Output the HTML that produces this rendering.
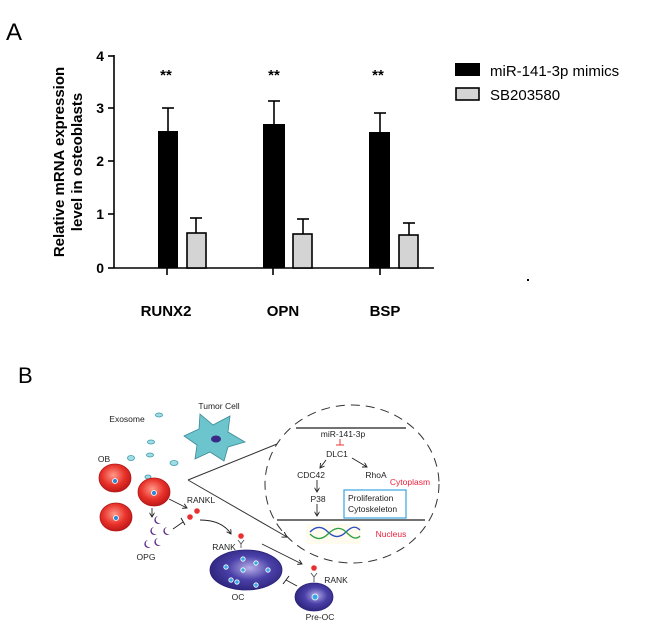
<!DOCTYPE html>
<html><head><meta charset="utf-8"><style>
html,body{margin:0;padding:0;background:#fff;}
svg{display:block;font-family:"Liberation Sans",sans-serif;}
</style></head><body>
<svg width="650" height="630" viewBox="0 0 650 630" xmlns="http://www.w3.org/2000/svg">
<defs>
<marker id="ar" markerWidth="6" markerHeight="6" refX="5" refY="3" orient="auto"><path d="M0,0 L5,3 L0,6" fill="none" stroke="#222" stroke-width="1"/></marker>
<radialGradient id="rc" cx="45%" cy="40%" r="60%"><stop offset="0" stop-color="#ff9a8a"/><stop offset="0.6" stop-color="#e8322a"/><stop offset="1" stop-color="#c01818"/></radialGradient>
<radialGradient id="bc" cx="55%" cy="45%" r="60%"><stop offset="0" stop-color="#b8b0e8"/><stop offset="0.5" stop-color="#4a40a8"/><stop offset="1" stop-color="#2a2278"/></radialGradient>
</defs>
<!-- Panel A -->
<text x="6" y="40" font-size="24">A</text>
<text transform="translate(64,162) rotate(-90)" font-size="15" font-weight="bold" text-anchor="middle">Relative mRNA expression</text>
<text transform="translate(82,162) rotate(-90)" font-size="15" font-weight="bold" text-anchor="middle">level in osteoblasts</text>
<g stroke="#000" stroke-width="1.6">
<line x1="114" y1="55" x2="114" y2="268"/>
<line x1="114" y1="268" x2="434" y2="268"/>
<line x1="108" y1="56" x2="114" y2="56"/><line x1="108" y1="108" x2="114" y2="108"/><line x1="108" y1="161" x2="114" y2="161"/><line x1="108" y1="214" x2="114" y2="214"/><line x1="108" y1="268" x2="114" y2="268"/>
<line x1="167" y1="268" x2="167" y2="275"/><line x1="273" y1="268" x2="273" y2="275"/><line x1="380" y1="268" x2="380" y2="275"/>
</g>
<g font-size="14" font-weight="bold" text-anchor="end">
<text x="104" y="61">4</text><text x="104" y="113">3</text><text x="104" y="166">2</text><text x="104" y="219">1</text><text x="104" y="273">0</text>
</g>
<g stroke="#000" stroke-width="1.6">
<line x1="168" y1="131" x2="168" y2="108"/><line x1="162" y1="108" x2="174" y2="108"/>
<line x1="196" y1="233" x2="196" y2="218"/><line x1="190" y1="218" x2="202" y2="218"/>
<line x1="274" y1="124" x2="274" y2="101"/><line x1="268" y1="101" x2="280" y2="101"/>
<line x1="303" y1="234" x2="303" y2="219"/><line x1="297" y1="219" x2="309" y2="219"/>
<line x1="380" y1="132" x2="380" y2="113"/><line x1="374" y1="113" x2="386" y2="113"/>
<line x1="409" y1="235" x2="409" y2="223"/><line x1="403" y1="223" x2="415" y2="223"/>
</g>
<rect x="158" y="131" width="20" height="137" fill="#000"/>
<rect x="263" y="124" width="22" height="144" fill="#000"/>
<rect x="369" y="132" width="21" height="136" fill="#000"/>
<rect x="187" y="233" width="19" height="35" fill="#d4d4d4" stroke="#000" stroke-width="1.6"/>
<rect x="293" y="234" width="19" height="34" fill="#d4d4d4" stroke="#000" stroke-width="1.6"/>
<rect x="399" y="235" width="19" height="33" fill="#d4d4d4" stroke="#000" stroke-width="1.6"/>
<g font-size="15" font-weight="bold" text-anchor="middle">
<text x="166" y="80">**</text><text x="274" y="80">**</text><text x="378" y="80">**</text>
<text x="166" y="316">RUNX2</text><text x="283" y="316">OPN</text><text x="385" y="316">BSP</text>
</g>
<rect x="455" y="63" width="25" height="13" fill="#000"/>
<rect x="456" y="88" width="23" height="12" fill="#d4d4d4" stroke="#000" stroke-width="1.6"/>
<text x="490" y="76" font-size="15">miR-141-3p mimics</text>
<text x="490" y="100" font-size="15">SB203580</text>
<rect x="527" y="279" width="2" height="2" fill="#000"/>
<!-- Panel B -->
<text x="18" y="383" font-size="22">B</text>
<g font-size="8.5" fill="#222">
<ellipse cx="352" cy="484" rx="87" ry="79" fill="none" stroke="#333" stroke-width="1" stroke-dasharray="9,6"/>
<line x1="296" y1="428" x2="406" y2="428" stroke="#444" stroke-width="1.5"/>
<line x1="277" y1="520" x2="425" y2="520" stroke="#444" stroke-width="1.5"/>
<text x="343" y="437" text-anchor="middle">miR-141-3p</text>
<line x1="340" y1="439" x2="340" y2="445" stroke="#e33" stroke-width="1"/><line x1="336" y1="445" x2="344" y2="445" stroke="#e33" stroke-width="1"/>
<text x="337" y="457" text-anchor="middle">DLC1</text>
<line x1="326" y1="460" x2="320" y2="468" stroke="#222" stroke-width="0.9" marker-end="url(#ar)"/>
<line x1="352" y1="458" x2="367" y2="467" stroke="#222" stroke-width="0.9" marker-end="url(#ar)"/>
<text x="311" y="478" text-anchor="middle">CDC42</text>
<text x="376" y="478" text-anchor="middle">RhoA</text>
<text x="410" y="485" text-anchor="middle" fill="#e8203a">Cytoplasm</text>
<line x1="317" y1="480" x2="317" y2="492" stroke="#222" stroke-width="0.9" marker-end="url(#ar)"/>
<text x="318" y="502" text-anchor="middle">P38</text>
<line x1="317" y1="504" x2="317" y2="516" stroke="#222" stroke-width="0.9" marker-end="url(#ar)"/>
<rect x="344" y="490" width="62" height="28" fill="#fff" stroke="#3aa4e0" stroke-width="1.2"/>
<text x="348" y="501">Proliferation</text>
<text x="348" y="512">Cytoskeleton</text>
<rect x="306" y="524" width="55" height="20" fill="#fffbef"/>
<path d="M310,532 C316,526 322,526 328,532 S340,538 346,532 S356,526 360,530" fill="none" stroke="#2a4cc0" stroke-width="1.3"/>
<path d="M310,534 C316,540 322,540 328,534 S340,526 346,532 S356,540 360,536" fill="none" stroke="#2aa040" stroke-width="1.3"/>
<text x="391" y="537" text-anchor="middle" fill="#e8203a">Nucleus</text>
<line x1="188" y1="480" x2="277" y2="444" stroke="#333" stroke-width="1"/>
<line x1="188" y1="480" x2="287" y2="537" stroke="#333" stroke-width="1" marker-end="url(#ar)"/>
<path d="M200,414 L213,425 L230,416 L228,432 L245,442 L228,447 L224,461 L210,452 L195,459 L197,445 L184,436 L199,429 Z" fill="#6cc4cc" stroke="#3a8a96" stroke-width="0.8"/>
<ellipse cx="216" cy="439" rx="5" ry="3.5" fill="#3a2a88"/>
<text x="219" y="409" text-anchor="middle">Tumor Cell</text>
<text x="127" y="422" text-anchor="middle">Exosome</text>
<g fill="#9fdde6" stroke="#3a9aa8" stroke-width="0.8">
<ellipse cx="159" cy="415" rx="3.5" ry="2"/><ellipse cx="151" cy="442" rx="3.5" ry="2"/><ellipse cx="150" cy="455" rx="3.5" ry="2"/>
<ellipse cx="131" cy="458" rx="3.5" ry="2.5"/><ellipse cx="174" cy="463" rx="4" ry="2.5"/><ellipse cx="148" cy="477" rx="3" ry="2"/>
</g>
<text x="104" y="462" text-anchor="middle">OB</text>
<g stroke="#b01818" stroke-width="0.8">
<ellipse cx="115" cy="478" rx="16" ry="14" fill="url(#rc)"/>
<ellipse cx="154" cy="492" rx="16" ry="14" fill="url(#rc)"/>
<ellipse cx="116" cy="517" rx="16" ry="14" fill="url(#rc)"/>
</g>
<g fill="#2a8ad8" stroke="#fff" stroke-width="0.8"><circle cx="115" cy="481" r="2.5"/><circle cx="154" cy="493" r="2.5"/><circle cx="116" cy="518" r="2.5"/></g>
<line x1="169" y1="499" x2="187" y2="508" stroke="#222" stroke-width="0.9" marker-end="url(#ar)"/>
<text x="201" y="503" text-anchor="middle">RANKL</text>
<g fill="#e83030" stroke="#fff" stroke-width="0.8"><circle cx="197" cy="511" r="3.2"/><circle cx="190" cy="517" r="3.2"/><circle cx="241" cy="536" r="3.2"/><circle cx="314" cy="568" r="3.2"/></g>
<line x1="152" y1="508" x2="152" y2="517" stroke="#222" stroke-width="0.9" marker-end="url(#ar)"/>
<g fill="#5a2a8a">
<path d="M158,516 a4,4 0 1,0 3,7 a3,3 0 1,1 -3,-7z"/><path d="M154,527 a4,4 0 1,0 3,7 a3,3 0 1,1 -3,-7z"/>
<path d="M167,527 a4,4 0 1,0 3,7 a3,3 0 1,1 -3,-7z"/><path d="M148,540 a4,4 0 1,0 3,7 a3,3 0 1,1 -3,-7z"/>
<path d="M158,538 a4,4 0 1,0 3,7 a3,3 0 1,1 -3,-7z"/>
</g>
<line x1="173" y1="529" x2="183" y2="522" stroke="#222" stroke-width="0.9"/><line x1="181" y1="518" x2="185" y2="525" stroke="#222" stroke-width="1"/>
<text x="146" y="560" text-anchor="middle">OPG</text>
<path d="M200,520 Q222,520 231,534" fill="none" stroke="#222" stroke-width="0.9" marker-end="url(#ar)"/>
<path d="M238,540 L241,544 L244,540 M241,544 L241,548" fill="none" stroke="#555" stroke-width="0.9"/>
<text x="224" y="550" text-anchor="middle">RANK</text>
<ellipse cx="246" cy="570" rx="36" ry="20" fill="url(#bc)" stroke="#2a2278" stroke-width="0.8"/>
<g fill="#3aa8e8" stroke="#fff" stroke-width="0.8">
<circle cx="226" cy="567" r="2.2"/><circle cx="243" cy="559" r="2.2"/><circle cx="243" cy="570" r="2.2"/><circle cx="256" cy="563" r="2.2"/><circle cx="268" cy="570" r="2.2"/>
<circle cx="231" cy="580" r="2.2"/><circle cx="237" cy="582" r="2.2"/><circle cx="256" cy="585" r="2.2"/>
</g>
<text x="238" y="600" text-anchor="middle">OC</text>
<line x1="262" y1="544" x2="302" y2="564" stroke="#222" stroke-width="0.9" marker-end="url(#ar)"/>
<path d="M311,573 L314,577 L317,573 M314,577 L314,582" fill="none" stroke="#555" stroke-width="0.9"/>
<text x="336" y="583" text-anchor="middle">RANK</text>
<ellipse cx="314" cy="597" rx="19" ry="14" fill="url(#bc)" stroke="#2a2278" stroke-width="0.8"/>
<circle cx="315" cy="597" r="3" fill="#3aa8e8" stroke="#fff" stroke-width="0.8"/>
<text x="320" y="620" text-anchor="middle">Pre-OC</text>
<line x1="297" y1="586" x2="286" y2="580" stroke="#222" stroke-width="0.9"/><line x1="283" y1="584" x2="289" y2="576" stroke="#222" stroke-width="1"/>
</g>
</svg>
</body></html>
